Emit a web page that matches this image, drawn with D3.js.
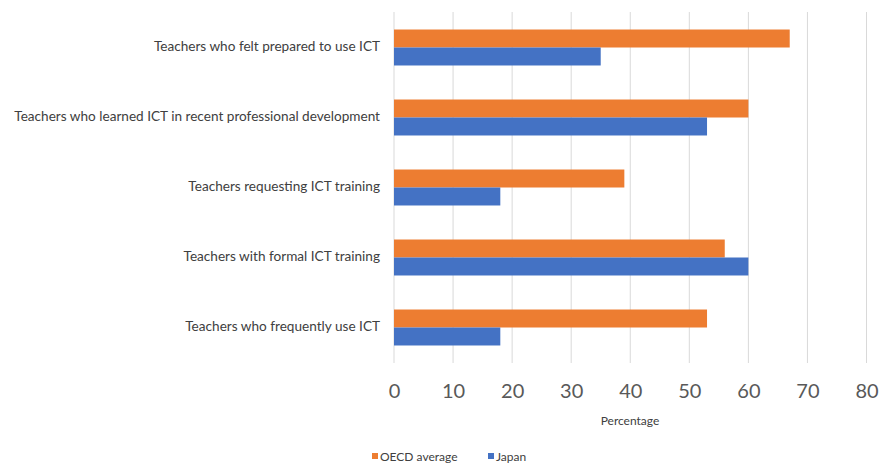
<!DOCTYPE html>
<html><head><meta charset="utf-8">
<script src="https://cdn.jsdelivr.net/npm/d3@7"></script>
<style>body{margin:0;background:#fff;}svg{display:block;}</style>
</head><body>
<svg id="c" width="880" height="463"></svg>
<script>
const categories = [
  "Teachers who felt prepared to use ICT",
  "Teachers who learned ICT in recent professional development",
  "Teachers requesting ICT training",
  "Teachers with formal ICT training",
  "Teachers who frequently use ICT"
];
const seriesNames = ["OECD average", "Japan"];
const oecdValues = [67, 60, 39, 56, 53];
const japanValues = [35, 53, 18, 60, 18];
const tickValues = [0, 10, 20, 30, 40, 50, 60, 70, 80];
const colors = ["#ED7D31", "#4472C4"];

const svg = d3.select("#c");
const x = d3.scaleLinear().domain([0, 80]).range([394, 866.5]);
const y = d3.scaleBand().domain(categories).range([12.5, 362.5]).paddingInner(0.486).paddingOuter(0.243);
const sub = d3.scaleBand().domain(seriesNames).range([0, y.bandwidth()]);
const font = "Lato, 'Open Sans', sans-serif";

// gridlines
svg.append("g").selectAll("line").data(tickValues).join("line")
  .attr("x1", d => x(d)).attr("x2", d => x(d))
  .attr("y1", 12).attr("y2", 363)
  .attr("stroke", "#d9d9d9").attr("stroke-width", 1);

const data = categories.map((c, i) => ({c, vals: [oecdValues[i], japanValues[i]]}));
const g = svg.append("g").selectAll("g").data(data).join("g")
  .attr("transform", d => `translate(0,${y(d.c)})`);
g.selectAll("rect").data(d => d.vals.map((v, j) => ({v, s: seriesNames[j], j}))).join("rect")
  .attr("x", x(0)).attr("y", d => sub(d.s))
  .attr("width", d => x(d.v) - x(0)).attr("height", sub.bandwidth())
  .attr("fill", d => colors[d.j]);

// category labels
svg.append("g").selectAll("text").data(categories).join("text")
  .attr("x", 380).attr("y", d => y(d) + y.bandwidth() / 2)
  .attr("text-anchor", "end").attr("dominant-baseline", "middle")
  .attr("font-family", font).attr("font-size", 13.6).attr("fill", "#404040")
  .text(d => d);

// x axis
const xAxis = d3.axisBottom(x).tickValues(tickValues).tickSize(0).tickPadding(0);
const ax = svg.append("g").attr("transform", "translate(0,384)").call(xAxis);
ax.select(".domain").remove();
ax.selectAll("text").attr("font-family", font).attr("font-size", 20).attr("fill", "#595959").attr("dy", "0.71em");

svg.append("text").attr("x", 630).attr("y", 425).attr("text-anchor", "middle")
  .attr("font-family", font).attr("font-size", 12).attr("fill", "#404040").text("Percentage");

// legend
const legendX = [372, 488];
const lg = svg.append("g").selectAll("g").data(seriesNames).join("g")
  .attr("transform", (d, i) => `translate(${legendX[i]},452)`);
lg.append("rect").attr("width", 6).attr("height", 6).attr("y", 1).attr("fill", (d, i) => colors[i]);
lg.append("text").attr("x", 8).attr("y", 5.5).attr("dominant-baseline", "middle")
  .attr("font-family", font).attr("font-size", 12).attr("fill", "#404040").text(d => d);
</script>
</body></html>
